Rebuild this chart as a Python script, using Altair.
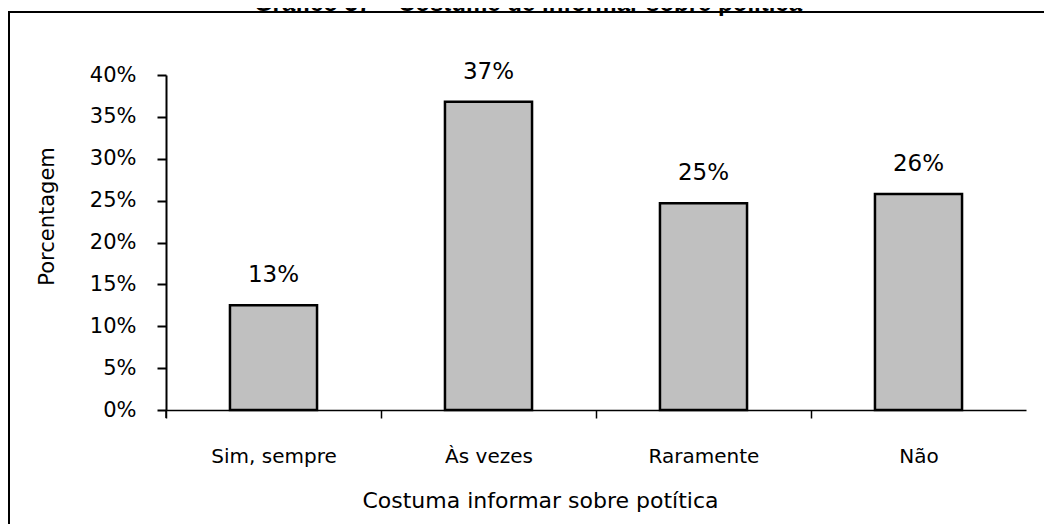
import altair as alt
import pandas as pd

categories = ["Sim, sempre", "Às vezes", "Raramente", "Não"]
values = [0.125, 0.368, 0.247, 0.258]
value_labels = ["13%", "37%", "25%", "26%"]
y_ticks = [0.0, 0.05, 0.10, 0.15, 0.20, 0.25, 0.30, 0.35, 0.40]
title_text = "Gráfico 37 – Costume de informar sobre política"
x_title = "Costuma informar sobre potítica"
y_title = "Porcentagem"

df = pd.DataFrame({"cat": categories, "val": values, "lab": value_labels})
one = pd.DataFrame({"a": [0]})

W, H = 860, 335
FONT = "DejaVu Sans"

base = alt.Chart(df).encode(
    x=alt.X(
        "cat:N",
        sort=categories,
        scale=alt.Scale(paddingInner=0.595, paddingOuter=0.2975),
        axis=alt.Axis(
            title=x_title,
            titleFont=FONT,
            titleFontSize=22,
            titleFontWeight="normal",
            titleColor="black",
            titleX=374,
            titleY=80,
            titleAlign="center",
            titleBaseline="top",
            labelAngle=0,
            labelFont=FONT,
            labelFontSize=20,
            labelColor="black",
            labelPadding=28,
            labelOffset=107.5,
            domainColor="black",
            domainWidth=1.5,
            tickColor="black",
            tickWidth=1.5,
            tickSize=8,
            tickOffset=-107.5,
            grid=False,
        ),
    ),
    y=alt.Y(
        "val:Q",
        scale=alt.Scale(domain=[0, 0.4], nice=False, zero=True),
        axis=alt.Axis(
            title=y_title,
            titleFont=FONT,
            titleFontSize=21,
            titleFontWeight="normal",
            titleColor="black",
            titleAngle=270,
            titleX=-119,
            titleY=141,
            titleAlign="center",
            titleBaseline="middle",
            values=y_ticks,
            format=".0%",
            labelFont=FONT,
            labelFontSize=21,
            labelColor="black",
            labelPadding=21,
            domainColor="black",
            domainWidth=2,
            tickColor="black",
            tickWidth=2,
            tickSize=9,
            grid=False,
        ),
    ),
)

bars = base.mark_bar(fill="#c0c0c0", stroke="black", strokeWidth=2.5)
labels = base.mark_text(dy=-30, fontSize=23, font=FONT, baseline="middle", color="black").encode(
    text="lab:N"
)

frame = alt.Chart(one).mark_rect(fillOpacity=0, stroke="black", strokeWidth=2).encode(
    x=alt.value(-157), x2=alt.value(900), y=alt.value(-63), y2=alt.value(500)
)

left_tick = alt.Chart(one).mark_rule(color="black", strokeWidth=1.5).encode(
    x=alt.value(0), y=alt.value(H), y2=alt.value(H + 8)
)

title = alt.Chart(one).mark_text(
    text=title_text, font="Liberation Sans", fontWeight="bold", fontSize=24,
    baseline="alphabetic", align="center", color="black"
).encode(x=alt.value(362), y=alt.value(-64))

chart = alt.layer(frame, bars, labels, left_tick, title).properties(
    width=W,
    height=H,
    autosize=alt.AutoSizeParams(type="none"),
    padding={"left": 158, "top": 67, "right": 18, "bottom": 114},
    background="white",
).configure_view(stroke=None)

chart.save("out.html", embed_options={"renderer": "svg", "actions": False})
